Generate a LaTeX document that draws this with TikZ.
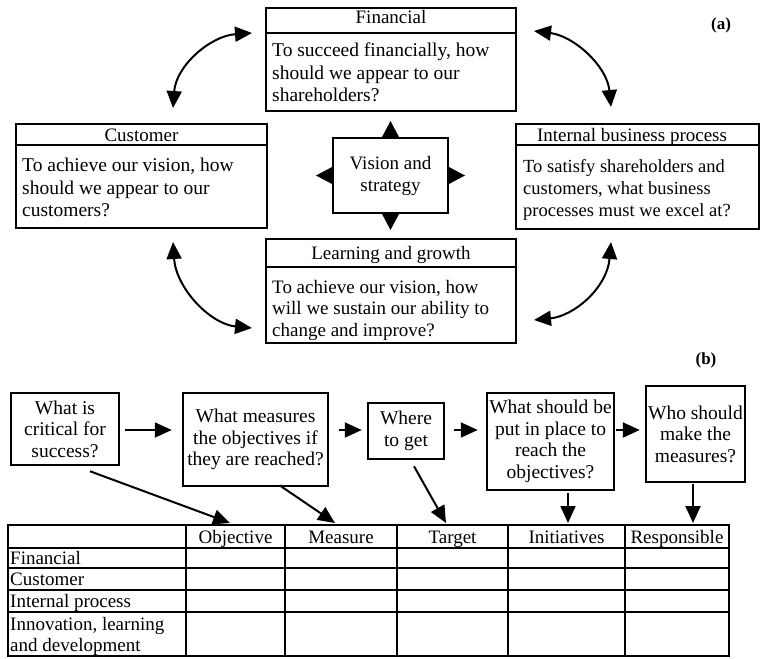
\documentclass[tikz,border=0pt]{standalone}
\usepackage{fontspec}
\setmainfont{Liberation Serif}
\usetikzlibrary{arrows.meta,calc}
\begin{document}
\begin{tikzpicture}[x=1pt,y=-1pt,
  frame/.style={draw,line width=2pt,inner sep=0pt},
  ttl/.style={inner sep=0pt,anchor=base,font=\fontsize{19}{22}\selectfont},
  body/.style={inner sep=0pt,anchor=north west,align=left,font=\fontsize{19.5}{22.5}\selectfont},
  qbox/.style={draw,line width=2.5pt,inner sep=0pt,align=center,font=\fontsize{19.5}{21.5}\selectfont},
  tip/.style={-{Triangle[length=17pt,width=15pt]},line width=2pt},
  dbl/.style={{Triangle[length=17pt,width=15pt]}-{Triangle[length=17pt,width=15pt]},line width=2pt},
  cell/.style={inner sep=0pt,anchor=base,font=\fontsize{19}{21}\selectfont},
  rowl/.style={inner sep=0pt,anchor=base west,font=\fontsize{19}{21}\selectfont},
  grid/.style={line width=2.5pt},
  lbl/.style={inner sep=0pt,font=\fontsize{17}{20}\selectfont\bfseries}
]
\useasboundingbox (0,0) rectangle (762,658);

% ---------------- part (a) ----------------
\node[frame,minimum width=250pt,minimum height=103pt] (fin) at (391,59.5) {};
\draw[line width=2pt] (fin.west |- 0,33) -- (fin.east |- 0,33);
\node[ttl] (fint) at (391,24) {Financial};
\node[body] (finb) at (272,43) {To succeed financially, how\\should we appear to our\\shareholders?};

\node[frame,minimum width=251pt,minimum height=104pt] (cus) at (141.5,176) {};
\draw[line width=2pt] (cus.west |- 0,145) -- (cus.east |- 0,145);
\node[ttl] (cust) at (141.5,141) {Customer};
\node[body] (cusb) at (22,158) {To achieve our vision, how\\should we appear to our\\customers?};

\node[frame,minimum width=243pt,minimum height=105pt] (int) at (637.5,176.5) {};
\draw[line width=2pt] (int.west |- 0,145) -- (int.east |- 0,145);
\node[ttl] (intt) at (632,141) {Internal business process};
\node[body,font=\fontsize{18.5}{22}\selectfont] (intb) at (523,159) {To satisfy shareholders and\\customers, what business\\processes must we excel at?};

\node[frame,minimum width=250pt,minimum height=104pt] (lea) at (391,291) {};
\draw[line width=2pt] (lea.west |- 0,267) -- (lea.east |- 0,267);
\node[ttl] (leat) at (391,259) {Learning and growth};
\node[body,font=\fontsize{19}{21.5}\selectfont] (leab) at (272,280) {To achieve our vision, how\\will we sustain our ability to\\change and improve?};

\node[frame,minimum width=115pt,minimum height=75pt,align=center,font=\fontsize{19}{22}\selectfont] (vis) at (390.5,175.5) {Vision and\\strategy};
\fill (vis.north) ++(-9,1) -- ++(18,0) -- ++(-9,-17) -- cycle;
\fill (vis.south) ++(-9,-1) -- ++(18,0) -- ++(-9,17) -- cycle;
\fill (vis.west) ++(1,-9) -- ++(0,18) -- ++(-17,-9) -- cycle;
\fill (vis.east) ++(-1,-9) -- ++(0,18) -- ++(17,-9) -- cycle;

\coordinate (tl1) at (173,108); \coordinate (tl2) at (252,33);
\coordinate (tr1) at (534,31);  \coordinate (tr2) at (611,107);
\coordinate (bl1) at (173,242); \coordinate (bl2) at (252,328);
\coordinate (br1) at (611,242); \coordinate (br2) at (534,320);
\draw[dbl] (tl1) .. controls (176,66) and (210,36) .. (tl2);
\draw[dbl] (tr1) .. controls (574,36) and (607,66) .. (tr2);
\draw[dbl] (bl1) .. controls (176,288) and (210,324) .. (bl2);
\draw[dbl] (br1) .. controls (607,288) and (574,316) .. (br2);

\node[lbl] (la) at (721,25) {(a)};

% ---------------- part (b) ----------------
\node[lbl] (lb) at (706,360) {(b)};

\node[qbox,minimum width=108pt,minimum height=72pt] (b1) at (65,429) {What is\\critical for\\success?};
\node[qbox,minimum width=145pt,minimum height=93pt] (b2) at (255.5,439.5) {What measures\\the objectives if\\they are reached?};
\node[qbox,minimum width=76pt,minimum height=56pt] (b3) at (406,431) {Where\\to get};
\node[qbox,minimum width=127pt,minimum height=97pt] (b4) at (550.5,441.5) {What should be\\put in place to\\reach the\\objectives?};
\node[qbox,minimum width=99pt,minimum height=96pt] (b5) at (695.5,434) {Who should\\make the\\measures?};

\draw[tip,shorten <=5pt,shorten >=10pt] (b1.east |- 0,430) -- (b2.west |- 0,430);
\draw[tip,shorten <=10pt,shorten >=5pt] (b2.east |- 0,430) -- (b3.west |- 0,430);
\draw[tip,shorten <=9pt,shorten >=8pt] (b3.east |- 0,430) -- (b4.west |- 0,430);
\draw[tip,shorten <=1pt,shorten >=5pt] (b4.east |- 0,430) -- (b5.west |- 0,430);

% table
\coordinate (t1) at (230,523);
\coordinate (t2) at (335,523);
\coordinate (t3) at (446,523);
\coordinate (t4) at (568,523);
\coordinate (t5) at (693,523);
\draw[tip] ($(b1.south)+(25,5)$) -- (t1);
\draw[tip] ($(b2.south)+(24,-2)$) -- (t2);
\draw[tip] ($(b3.south)+(8,6)$) -- (t3);
\draw[tip] ($(b4.south)+(17.5,2)$) -- (t4);
\draw[tip] ($(b5.south)+(-2.5,1)$) -- (t5);

\draw[grid] (8,525) rectangle (729,656);
\foreach \yy in {548,568,590,612} \draw[grid] (8,\yy) -- (729,\yy);
\foreach \xx in {186,285,397,508,625} \draw[grid] (\xx,525) -- (\xx,656);

\node[cell] (h1) at (235.5,543) {Objective};
\node[cell] (h2) at (341,543) {Measure};
\node[cell] (h3) at (452.5,543) {Target};
\node[cell] (h4) at (566.5,543) {Initiatives};
\node[cell] (h5) at (677,543) {Responsible};
\node[rowl] (r1) at (10,564) {Financial};
\node[rowl] (r2) at (10,585) {Customer};
\node[rowl] (r3) at (10,607) {Internal process};
\node[rowl] (r4) at (10,630) {Innovation, learning};
\node[rowl] (r5) at (10,651) {and development};
\end{tikzpicture}
\end{document}
